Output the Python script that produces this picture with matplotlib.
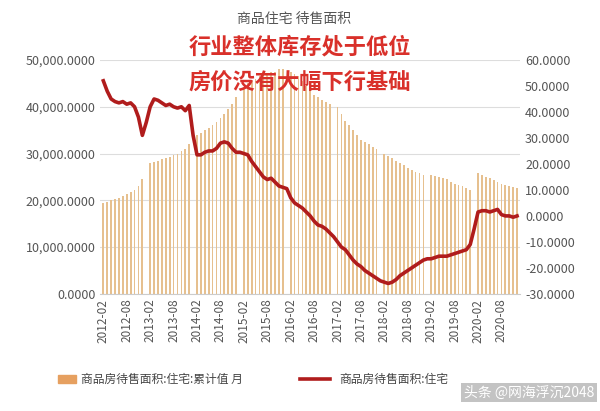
import matplotlib.pyplot as plt
import numpy as np

plt.rcParams['font.family'] = ['Noto Sans CJK SC', 'DejaVu Sans']

# monthly, 2012-02 .. 2020-12 ; None = no January figure
inventory = [19.5, 19.7, 20, 20.3, 20.6, 21, 21.3, 21.7, 22.3, 23, 24.5,
             None, 28, 28.3, 28.5, 28.8, 29, 29.3, 29.6, 30, 30.5, 31, 32,
             None, 34, 34.5, 35, 35.5, 36, 36.8, 37.5, 38.5, 39.5, 40.5, 42,
             None, 44, 45, 45.5, 46, 46.5, 47, 47, 47.5, 47.5, 48, 48,
             None, 47.5, 47, 46.5, 45.5, 44.5, 43.5, 42.5, 42, 41.5, 41, 40.5,
             None, 40, 38.5, 37, 36, 35, 34, 33, 32.5, 32, 31.5, 31,
             None, 30, 29.5, 29, 28.5, 28, 27.5, 27, 26.5, 26, 25.8, 25.5,
             None, 25.5, 25.2, 25, 24.7, 24.5, 24, 23.5, 23.2, 23, 22.6, 22.3,
             None, 25.8, 25.5, 25, 24.7, 24.3, 24, 23.5, 23.2, 23, 22.8, 22.6]
yoy = [52, 48, 45, 44, 43.5, 44, 43, 43.5, 42, 38, 31,
       36, 42, 45, 44.5, 43.5, 42.5, 43, 42, 41.5, 42, 40.5, 42.5,
       31, 23.5, 23.5, 24.5, 25, 25, 26, 28, 28.5, 28, 26, 24.5,
       24.5, 24, 23.5, 21, 19, 17, 15, 14, 14.5, 13, 11.5, 11,
       10.5, 7, 5, 4, 3, 1.5, 0, -2, -3.5, -4, -5, -6.5,
       -8, -10, -12, -13, -15, -17, -18.5, -19.5, -21, -22, -23, -24,
       -25, -25.5, -26, -25.5, -24.5, -23, -22, -21, -20, -19, -18, -17,
       -16.5, -16.5, -16, -15.5, -15.5, -15.5, -15, -14.5, -14, -13.5, -13, -11,
       -5, 1.5, 2, 2, 1.5, 2, 2.5, 0.5, 0, 0, -0.5, 0]

months = []
for i in range(len(yoy)):
    m = i + 1  # 2012-02 is month index 1 of 2012
    months.append(f"{2012 + m // 12}-{m % 12 + 1:02d}")

x = np.arange(len(months))
bars = np.array([np.nan if v is None else v * 1000 for v in inventory])

fig = plt.figure(figsize=(6, 4.11), dpi=100)
ax = fig.add_axes([0.167, 0.285, 0.70, 0.569])
ax2 = ax.twinx()

ax.bar(x, bars, width=0.45, color='#e6c08f', zorder=2)
ax2.plot(x, yoy, color='#b01c1c', lw=2.6, zorder=3)

ax.set_ylim(0, 50000)
ax.set_yticks(range(0, 50001, 10000))
ax.set_yticklabels([f"{v:,.4f}" for v in range(0, 50001, 10000)], color='#555555', fontsize=9)
ax2.set_ylim(-30, 60)
ax2.set_yticks(range(-30, 61, 10))
ax2.set_yticklabels([f"{v:.4f}" for v in range(-30, 61, 10)], color='#555555', fontsize=9)
ax.grid(axis='y', color='#dddddd', lw=0.8, zorder=0)
ax.set_xlim(-0.8, len(x) - 0.2)
ax.set_xticks(x[::6])
ax.set_xticklabels(months[::6], rotation=90, fontsize=8.5, color='#555555')
for a in (ax, ax2):
    for s in a.spines.values():
        s.set_visible(False)
    a.tick_params(length=0)
ax.spines['bottom'].set_visible(True)
ax.spines['bottom'].set_color('#cccccc')

fig.text(0.49, 0.945, '商品住宅 待售面积', ha='center', fontsize=10, color='#555555')
fig.text(0.50, 0.87, '行业整体库存处于低位', ha='center', fontsize=16, fontweight='bold', color='#d9302a')
fig.text(0.50, 0.785, '房价没有大幅下行基础', ha='center', fontsize=16, fontweight='bold', color='#d9302a')

fig.patches.append(plt.Rectangle((0.097, 0.067), 0.03, 0.02, transform=fig.transFigure, color='#e6a060'))
fig.text(0.135, 0.077, '商品房待售面积:住宅:累计值 月', fontsize=8.5, va='center', color='#444444')
fig.lines.append(plt.Line2D([0.50, 0.55], [0.077, 0.077], transform=fig.transFigure, color='#b01c1c', lw=2.6))
fig.text(0.565, 0.077, '商品房待售面积:住宅', fontsize=8.5, va='center', color='#444444')
fig.text(0.99, 0.035, '头条 @网海浮沉2048', ha='right', fontsize=10, color='#ffffff',
         bbox=dict(facecolor='#888888', alpha=0.5, edgecolor='none', pad=2))

fig.savefig('out.png', dpi=100)
